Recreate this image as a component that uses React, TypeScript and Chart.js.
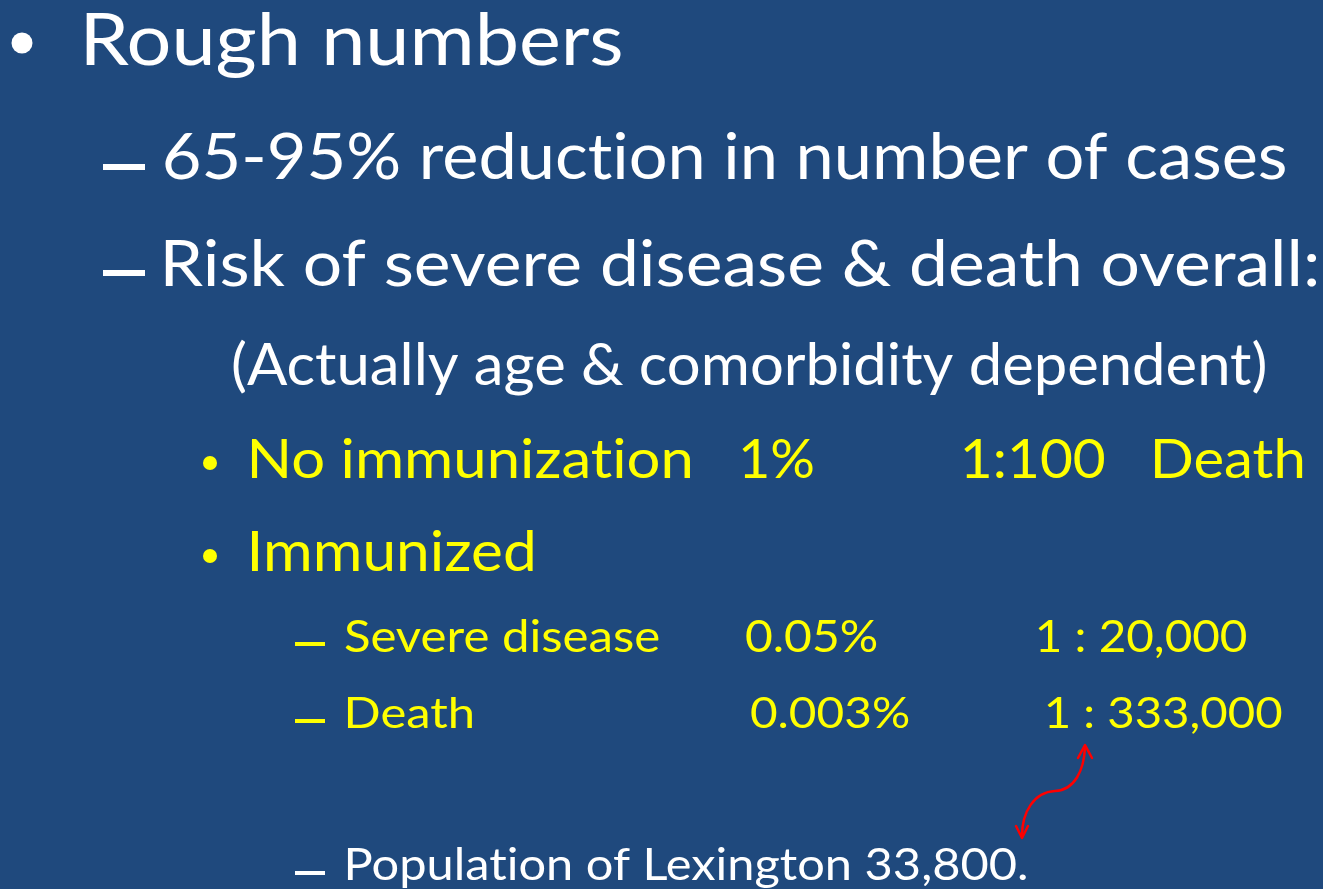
import React, { useEffect, useRef } from "react";
import { Chart, registerables } from "chart.js";

Chart.register(...registerables);

// ---- slide content (text "data") ----
const headline = ["Rough numbers"];
const subPoints = ["65-95% reduction in number of cases", "Risk of severe disease & death overall:"];
const noteText = ["(Actually age & comorbidity dependent)"];
const riskGroups = ["No immunization", "Immunized"];
const noImmunizationValues = ["1%", "1:100", "Death"];
const immunizedOutcomes = ["Severe disease", "Death"];
const immunizedPercent = ["0.05%", "0.003%"];
const immunizedRatio = ["1 : 20,000", "1 : 333,000"];
const footerText = ["Population of Lexington 33,800."];

// ---- layout / styles (kept separate from content) ----
const W = 1323;
const H = 889;
const BG = "#1F497D";
const WHITE = "#FFFFFF";
const YELLOW = "#FFFF00";
const RED = "#FF0000";
const FONT = "Lato, 'Open Sans', 'Noto Sans', sans-serif";

type Run = { text: string; x0: number; x1: number; base: number; cap: number; color: string };

const runs: Run[] = [
  { text: headline[0], x0: 86, x1: 621, base: 65, cap: 53, color: WHITE },
  { text: subPoints[0], x0: 165, x1: 1285, base: 179, cap: 46, color: WHITE },
  { text: subPoints[1], x0: 165, x1: 1317, base: 286, cap: 47, color: WHITE },
  { text: noteText[0], x0: 233, x1: 1265, base: 385, cap: 42, color: WHITE },
  { text: riskGroups[0], x0: 252, x1: 690, base: 478, cap: 40, color: YELLOW },
  { text: noImmunizationValues[0], x0: 742, x1: 813, base: 478, cap: 40, color: YELLOW },
  { text: noImmunizationValues[1], x0: 964, x1: 1105, base: 478, cap: 40, color: YELLOW },
  { text: noImmunizationValues[2], x0: 1155, x1: 1302, base: 478, cap: 40, color: YELLOW },
  { text: riskGroups[1], x0: 252, x1: 533, base: 571, cap: 41, color: YELLOW },
  { text: immunizedOutcomes[0], x0: 345, x1: 659, base: 652, cap: 32, color: YELLOW },
  { text: immunizedPercent[0], x0: 746, x1: 877, base: 652, cap: 32, color: YELLOW },
  { text: immunizedRatio[0], x0: 1038, x1: 1247, base: 652, cap: 32, color: YELLOW },
  { text: immunizedOutcomes[1], x0: 347, x1: 472, base: 728, cap: 31, color: YELLOW },
  { text: immunizedPercent[1], x0: 751, x1: 909, base: 728, cap: 31, color: YELLOW },
  { text: immunizedRatio[1], x0: 1047, x1: 1282, base: 728, cap: 31, color: YELLOW },
  { text: footerText[0], x0: 348, x1: 1026, base: 880, cap: 32, color: WHITE },
];

const bullets = [
  { x: 22, y: 43, r: 10.5, color: WHITE },
  { x: 210, y: 463, r: 7, color: YELLOW },
  { x: 210, y: 556, r: 7, color: YELLOW },
];

const dashes = [
  { x0: 103, x1: 145, y0: 164, y1: 170, color: WHITE },
  { x0: 103, x1: 145, y0: 270, y1: 276, color: WHITE },
  { x0: 295, x1: 325, y0: 642, y1: 646, color: YELLOW },
  { x0: 295, x1: 325, y0: 719, y1: 723, color: YELLOW },
  { x0: 295, x1: 325, y0: 871, y1: 875, color: WHITE },
];

const slidePlugin = {
  id: "slide",
  beforeDraw(chart: any) {
    const ctx = chart.ctx;
    ctx.save();
    ctx.fillStyle = BG;
    ctx.fillRect(0, 0, chart.width, chart.height);
    ctx.restore();
  },
  afterDraw(chart: any) {
    const ctx: any = chart.ctx;
    const xs = chart.scales.x;
    const ys = chart.scales.y;
    const px = (v: number) => xs.getPixelForValue(v);
    const py = (v: number) => ys.getPixelForValue(v);

    ctx.save();
    ctx.font = `100px ${FONT}`;
    const capRatio = ctx.measureText("H").actualBoundingBoxAscent / 100 || 0.72;
    ctx.restore();

    runs.forEach((r) => {
      const size = r.cap / capRatio;
      ctx.save();
      ctx.font = `${size}px ${FONT}`;
      if ("letterSpacing" in ctx) ctx.letterSpacing = "0.01px"; // avoid "ti" ligatures
      if ("fontVariantLigatures" in ctx) ctx.fontVariantLigatures = "none";
      ctx.fillStyle = r.color;
      ctx.textAlign = "left";
      ctx.textBaseline = "alphabetic";
      const m = ctx.measureText(r.text);
      const inkW = m.actualBoundingBoxRight + m.actualBoundingBoxLeft;
      const targetW = px(r.x1) - px(r.x0);
      const sx = inkW > 0 ? targetW / inkW : 1;
      ctx.translate(px(r.x0), py(r.base));
      ctx.scale(sx, 1);
      ctx.fillText(r.text, m.actualBoundingBoxLeft, 0);
      ctx.restore();
    });

    bullets.forEach((b) => {
      ctx.save();
      ctx.fillStyle = b.color;
      ctx.beginPath();
      ctx.arc(px(b.x), py(b.y), b.r, 0, Math.PI * 2);
      ctx.fill();
      ctx.restore();
    });

    dashes.forEach((d) => {
      ctx.save();
      ctx.fillStyle = d.color;
      ctx.fillRect(px(d.x0), py(d.y0), px(d.x1) - px(d.x0), py(d.y1) - py(d.y0));
      ctx.restore();
    });

    ctx.save();
    ctx.strokeStyle = RED;
    ctx.lineWidth = 2.5;
    ctx.lineCap = "round";
    ctx.lineJoin = "round";
    ctx.beginPath();
    ctx.moveTo(px(1022), py(836));
    ctx.bezierCurveTo(px(1022), py(812), px(1034), py(792), px(1055), py(791));
    ctx.bezierCurveTo(px(1075), py(790), px(1084), py(770), px(1085), py(747));
    ctx.stroke();
    ctx.beginPath();
    ctx.moveTo(px(1078), py(758));
    ctx.lineTo(px(1085), py(745));
    ctx.lineTo(px(1092), py(758));
    ctx.stroke();
    ctx.beginPath();
    ctx.moveTo(px(1016), py(826));
    ctx.lineTo(px(1022), py(838));
    ctx.lineTo(px(1028), py(826));
    ctx.stroke();
    ctx.restore();
  },
};

export default function App() {
  const ref = useRef<HTMLCanvasElement | null>(null);
  useEffect(() => {
    if (!ref.current) return;
    const chart = new Chart(ref.current, {
      type: "scatter",
      data: { datasets: [] },
      options: {
        responsive: false,
        animation: false,
        devicePixelRatio: 1,
        layout: { padding: 0 },
        plugins: { legend: { display: false }, tooltip: { enabled: false } },
        scales: {
          x: { type: "linear", min: 0, max: W, display: false },
          y: { type: "linear", min: 0, max: H, reverse: true, display: false },
        },
      },
      plugins: [slidePlugin],
    } as any);
    return () => chart.destroy();
  }, []);
  return (
    <div style={{ position: "fixed", left: 0, top: 0, width: W, height: H, background: BG }}>
      <canvas ref={ref} width={W} height={H} style={{ display: "block", width: W, height: H }} />
    </div>
  );
}
